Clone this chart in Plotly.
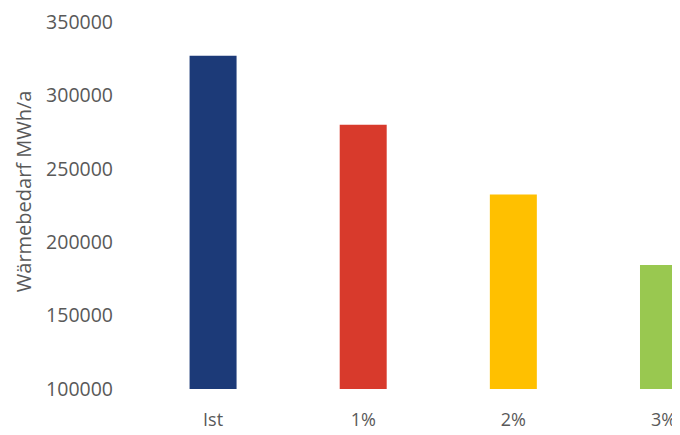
import plotly.graph_objects as go

categories = ["Ist", "1%", "2%", "3%"]
values = [327000, 280000, 232500, 184500]
colors = ["#1c3a78", "#d83a2c", "#ffc000", "#99c850"]
y_ticks = [100000, 150000, 200000, 250000, 300000, 350000]
y_title = "Wärmebedarf MWh/a"

fig = go.Figure(go.Bar(
    x=categories, y=values, marker_color=colors, marker_line_width=0,
    width=0.313, base=0,
))
fig.update_layout(
    width=672, height=427,
    margin=dict(l=130, r=0, t=12, b=46),
    paper_bgcolor="white", plot_bgcolor="white",
    showlegend=False,
    font=dict(family="Open Sans", color="#595959", size=18),
)
fig.update_xaxes(
    range=[-0.5, 3.11], showline=False, showgrid=False, zeroline=False,
    ticks="", ticklabelstandoff=18, tickfont=dict(size=18),
    ticklabeloverflow="allow",
)
fig.update_yaxes(
    range=[100000, 350000], tickvals=y_ticks, ticktext=[str(v) for v in y_ticks],
    showgrid=False, zeroline=False, showline=False, ticks="",
    ticklabelstandoff=24, tickfont=dict(size=19.5),
    ticklabeloverflow="allow",
)
fig.add_annotation(
    text=y_title, textangle=-90, xref="paper", yref="paper",
    x=0, y=0.539, xanchor="center", yanchor="middle", xshift=-115,
    showarrow=False, font=dict(size=20, color="#595959"),
)
fig.write_html("out.html")
